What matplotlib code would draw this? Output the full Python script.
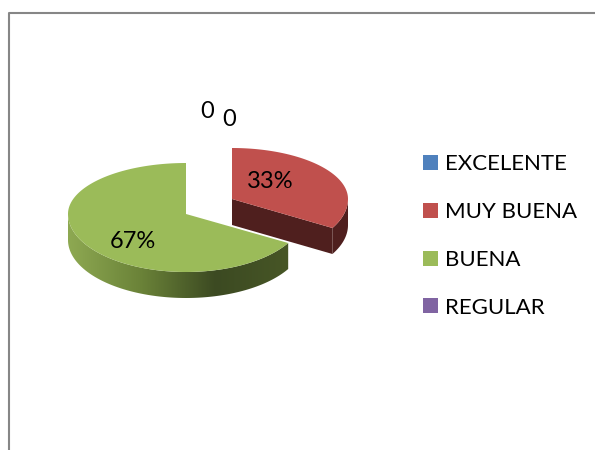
import numpy as np
import matplotlib
matplotlib.use("Agg")
import matplotlib.pyplot as plt
from matplotlib.colors import LinearSegmentedColormap
from matplotlib.patches import Polygon, Patch

categorias = ["EXCELENTE", "MUY BUENA", "BUENA", "REGULAR"]
valores = [0, 1, 2, 0]
etiquetas = ["0", "33%", "67%", "0"]
colores = ["#4f81bd", "#c0504d", "#9bbb59", "#8064a2"]

# geometria en pixeles de la imagen
centros = [(232, 199), (232, 199), (186, 214), (186, 214)]
radios_x = [116, 116, 118, 118]
R_ATRAS = 51
R_FRENTE = 58
ALTO = 26
pos_etiquetas = [(207, 112), (270, 182), (133, 241), (229, 120)]

plt.rcParams['font.family'] = ['Lato', 'DejaVu Sans']


def borde(c, rx, a):
    # a en grados, en sentido horario desde arriba
    a = np.radians(a)
    x = c[0] + rx * np.sin(a)
    co = np.cos(a)
    y = c[1] - np.where(co > 0, R_ATRAS, R_FRENTE) * co
    return x, y


fig = plt.figure(figsize=(5.95, 4.5), dpi=100)
ax = fig.add_axes([0, 0, 1, 1])
ax.set_xlim(0, 595)
ax.set_ylim(450, 0)
ax.axis("off")

# marco del grafico
ax.plot([9, 9, 595], [450, 13, 13], color="#868686", lw=1.5)

total = sum(valores)
angulos = np.cumsum([0] + valores) / total * 360

for i in range(len(valores)):
    if valores[i] == 0:
        continue
    c = centros[i]
    a0, a1 = angulos[i], angulos[i + 1]
    t = np.linspace(a0, a1, 200)
    x, y = borde(c, radios_x[i], t)

    # pared exterior, solo la parte de frente
    fr = np.linspace(max(a0, 90), min(a1, 270), 200)
    xf, yf = borde(c, radios_x[i], fr)
    pared = np.c_[np.r_[xf, xf[::-1]], np.r_[yf, yf[::-1] + ALTO]]
    if categorias[i] == "BUENA":
        cmap = LinearSegmentedColormap.from_list(
            "verde", ["#8ea952", "#6a8238", "#3c4a22", "#475626"])
        p = Polygon(pared, closed=True, fc="none", ec="none")
        ax.add_patch(p)
        # el degradado corre de izquierda a derecha
        im = ax.imshow(np.linspace(0, 1, 256)[None, :], cmap=cmap, aspect="auto",
                       extent=[xf.min(), xf.max(), 450, 0], zorder=2)
        im.set_clip_path(p)
    else:
        ax.add_patch(Polygon(pared, closed=True, fc="#4f1f1e", ec="none", zorder=2))
        # cara del corte que queda a la vista
        xe, ye = borde(c, radios_x[i], a1)
        ax.fill([c[0], xe, xe, c[0]], [c[1], ye, ye + ALTO, c[1] + ALTO],
                color="#4f1f1e", lw=0, zorder=2)

    ax.add_patch(Polygon(np.c_[np.r_[c[0], x], np.r_[c[1], y]], closed=True,
                         fc=colores[i], ec="none", zorder=3))

ax.set_xlim(0, 595)
ax.set_ylim(450, 0)

for e, p in zip(etiquetas, pos_etiquetas):
    ax.text(p[0], p[1], e, fontsize=17, color="black", ha="center", va="center", zorder=4)

marcas = [Patch(fc=col, ec="none") for col in colores]
ax.legend(marcas, categorias, loc="center left", bbox_to_anchor=(423, 236),
          bbox_transform=ax.transData, frameon=False, fontsize=16, handlelength=0.67,
          handleheight=0.67, handletextpad=0.32, labelspacing=1.25, borderpad=0, borderaxespad=0)

fig.savefig("out.png", dpi=100)
